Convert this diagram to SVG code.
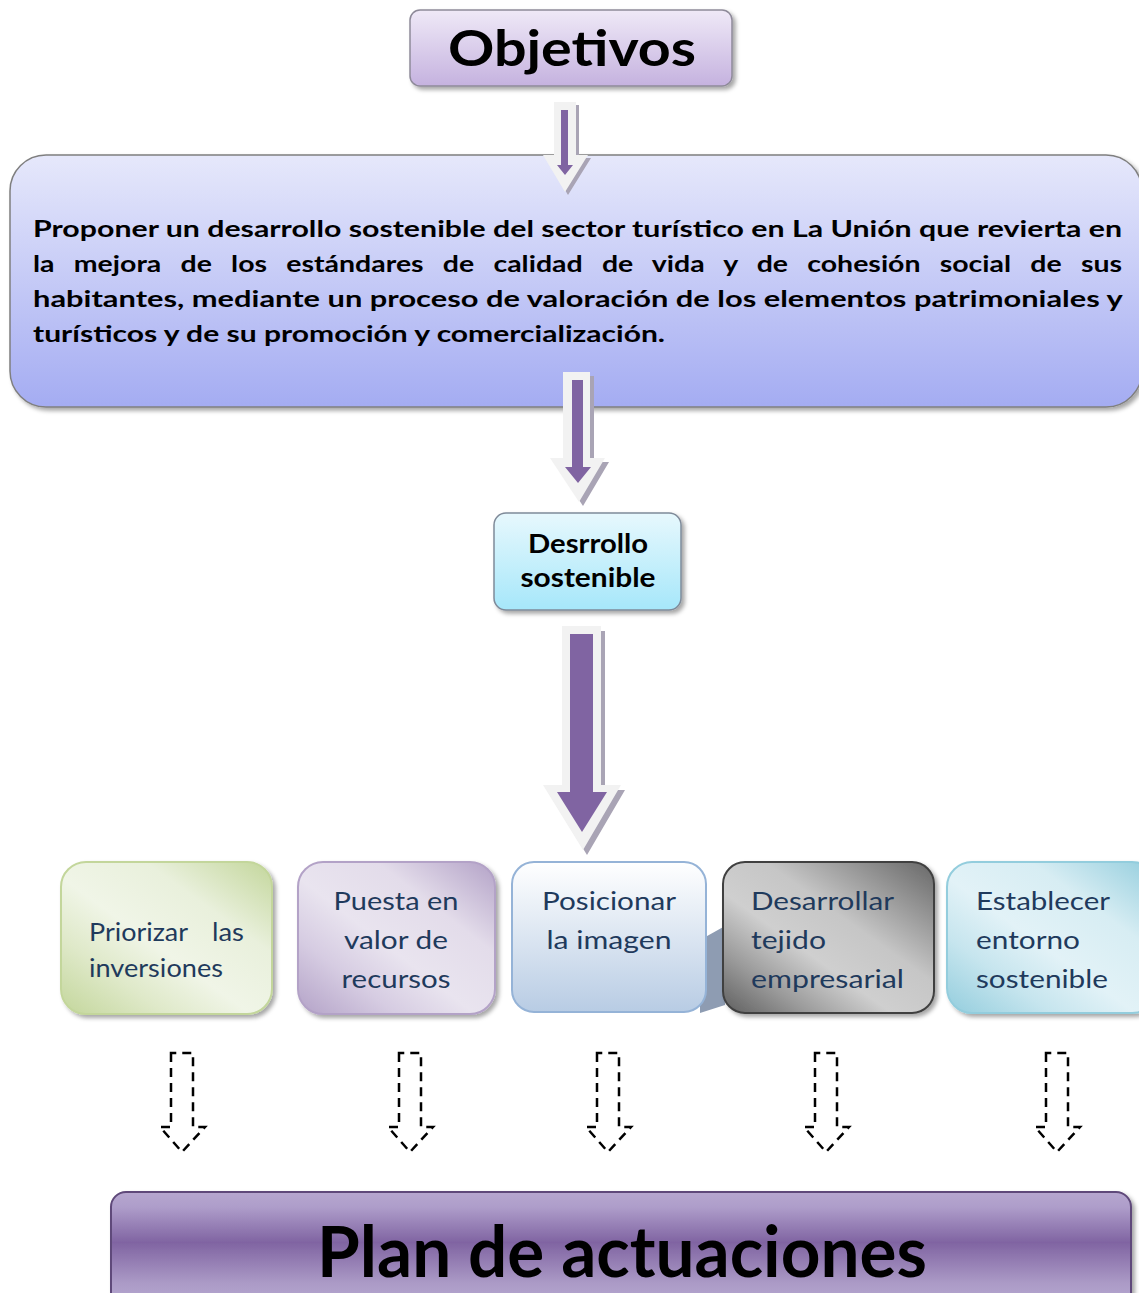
<svg xmlns="http://www.w3.org/2000/svg" width="1139" height="1293" viewBox="0 0 1139 1293">
<defs>
<style>
.b{font-family:Lato,"Liberation Sans",sans-serif;font-weight:bold;fill:#000}
.n{font-family:Lato,"Liberation Sans",sans-serif;font-weight:normal;fill:#1f3a5c;font-size:25px}
.dash{fill:none;stroke:#000;stroke-width:2.5;stroke-dasharray:9 6}
.aw{fill:#f2f2f2}
.as{fill:#a9a4b5}
.ap{fill:#8064a2}
</style>
<filter id="sh" x="-10%" y="-10%" width="130%" height="140%">
<feDropShadow dx="3" dy="3" stdDeviation="2" flood-color="#000" flood-opacity="0.35"/>
</filter>
<linearGradient id="gObj" x1="0" y1="0" x2="0" y2="1">
<stop offset="0" stop-color="#efe9f7"/><stop offset="1" stop-color="#c5b2df"/>
</linearGradient>
<linearGradient id="gMain" x1="0" y1="0" x2="0" y2="1">
<stop offset="0" stop-color="#e6e8fb"/><stop offset="1" stop-color="#a4acf2"/>
</linearGradient>
<linearGradient id="gDes" x1="0" y1="0" x2="0" y2="1">
<stop offset="0" stop-color="#e7f8fd"/><stop offset="1" stop-color="#a6e7fa"/>
</linearGradient>
<linearGradient id="gGreen" x1="1" y1="0" x2="0" y2="1">
<stop offset="0" stop-color="#c3d69b"/><stop offset="0.3" stop-color="#e9f0dc"/><stop offset="0.55" stop-color="#f0f5e7"/><stop offset="0.75" stop-color="#dfe9c9"/><stop offset="1" stop-color="#c3d69b"/>
</linearGradient>
<linearGradient id="gPurple" x1="1" y1="0" x2="0" y2="1">
<stop offset="0" stop-color="#b3a2c7"/><stop offset="0.3" stop-color="#e3dcea"/><stop offset="0.55" stop-color="#e9e4ef"/><stop offset="0.75" stop-color="#d6cce2"/><stop offset="1" stop-color="#b3a2c7"/>
</linearGradient>
<linearGradient id="gPos" x1="0" y1="0" x2="0" y2="1">
<stop offset="0" stop-color="#ffffff"/><stop offset="1" stop-color="#b8cce4"/>
</linearGradient>
<linearGradient id="gGrey" x1="1" y1="0" x2="0" y2="1">
<stop offset="0" stop-color="#676767"/><stop offset="0.4" stop-color="#c6c6c6"/><stop offset="0.6" stop-color="#cfcfcf"/><stop offset="0.8" stop-color="#9a9a9a"/><stop offset="1" stop-color="#5e5e5e"/>
</linearGradient>
<linearGradient id="gCyan" x1="1" y1="0" x2="0" y2="1">
<stop offset="0" stop-color="#93cddd"/><stop offset="0.3" stop-color="#d7edf3"/><stop offset="0.55" stop-color="#e2f2f7"/><stop offset="0.75" stop-color="#c6e5ee"/><stop offset="1" stop-color="#93cddd"/>
</linearGradient>
<linearGradient id="gPlan" gradientUnits="userSpaceOnUse" x1="0" y1="1192" x2="0" y2="1293">
<stop offset="0" stop-color="#b6a7cf"/><stop offset="0.15" stop-color="#ae9dca"/><stop offset="0.5" stop-color="#8064a2"/><stop offset="0.9" stop-color="#ab9ac6"/><stop offset="1" stop-color="#b0a1cb"/>
</linearGradient>
<path id="darr" d="M171,1053 V1127 H160 L182,1152 L205,1127 H193 V1053 Z"/>
</defs>

<g id="objetivos">
<rect x="410" y="10" width="322" height="76" rx="10" fill="url(#gObj)" stroke="#8e8a99" stroke-width="1.5" filter="url(#sh)"/>
<text class="b" x="448" y="66" font-size="50" textLength="248" lengthAdjust="spacingAndGlyphs">Objetivos</text>
</g>

<g id="objetivo-general">
<rect x="10" y="155" width="1132" height="252" rx="36" fill="url(#gMain)" stroke="#7f7f7f" stroke-width="1.5" filter="url(#sh)"/>
<text class="b" font-size="22">
<tspan x="33" y="237" textLength="1089" lengthAdjust="spacingAndGlyphs">Proponer un desarrollo sostenible del sector turístico en La Unión que revierta en</tspan>
</text>
<text class="b" font-size="22" x="33" y="272" word-spacing="9.5" textLength="1089" lengthAdjust="spacingAndGlyphs">la mejora de los estándares de calidad de vida y de cohesión social de sus</text>
<text class="b" font-size="22">
<tspan x="33" y="307" textLength="1089" lengthAdjust="spacingAndGlyphs">habitantes, mediante un proceso de valoración de los elementos patrimoniales y</tspan>
<tspan x="33" y="342" textLength="632" lengthAdjust="spacingAndGlyphs">turísticos y de su promoción y comercialización.</tspan>
</text>
</g>

<g id="desarrollo">
<rect x="494" y="513" width="187" height="97" rx="12" fill="url(#gDes)" stroke="#7f8a99" stroke-width="1.5" filter="url(#sh)"/>
<text class="b" x="588" y="553" font-size="27" text-anchor="middle" textLength="120" lengthAdjust="spacingAndGlyphs">Desrrollo</text>
<text class="b" x="588" y="587" font-size="27" text-anchor="middle" textLength="135" lengthAdjust="spacingAndGlyphs">sostenible</text>
</g>

<g id="link-shape">
<polygon points="700,940 725,926 725,1005 700,1013" fill="#8e9cb2"/>
</g>

<g id="priorizar">
<rect x="61" y="862" width="211" height="152" rx="25" fill="url(#gGreen)" stroke="#c3d69b" stroke-width="2" filter="url(#sh)"/>
<text class="n" x="89" y="941" textLength="99" lengthAdjust="spacingAndGlyphs">Priorizar</text>
<text class="n" x="244" y="941" text-anchor="end" textLength="32" lengthAdjust="spacingAndGlyphs">las</text>
<text class="n" x="89" y="977" textLength="134" lengthAdjust="spacingAndGlyphs">inversiones</text>
</g>

<g id="puesta">
<rect x="298" y="862" width="197" height="152" rx="25" fill="url(#gPurple)" stroke="#b3a2c7" stroke-width="2" filter="url(#sh)"/>
<text class="n" x="396" y="910" text-anchor="middle" textLength="125" lengthAdjust="spacingAndGlyphs">Puesta en</text>
<text class="n" x="396" y="949" text-anchor="middle" textLength="104" lengthAdjust="spacingAndGlyphs">valor de</text>
<text class="n" x="396" y="988" text-anchor="middle" textLength="109" lengthAdjust="spacingAndGlyphs">recursos</text>
</g>

<g id="posicionar">
<rect x="512" y="862" width="194" height="150" rx="22" fill="url(#gPos)" stroke="#95b3d7" stroke-width="2"/>
<text class="n" x="609" y="910" text-anchor="middle" textLength="134" lengthAdjust="spacingAndGlyphs">Posicionar</text>
<text class="n" x="609" y="949" text-anchor="middle" textLength="125" lengthAdjust="spacingAndGlyphs">la imagen</text>
</g>

<g id="desarrollar">
<rect x="723" y="862" width="211" height="151" rx="22" fill="url(#gGrey)" stroke="#404040" stroke-width="2" filter="url(#sh)"/>
<text class="n" x="751" y="910" textLength="143" lengthAdjust="spacingAndGlyphs">Desarrollar</text>
<text class="n" x="751" y="949" textLength="75" lengthAdjust="spacingAndGlyphs">tejido</text>
<text class="n" x="751" y="988" textLength="153" lengthAdjust="spacingAndGlyphs">empresarial</text>
</g>

<g id="establecer">
<rect x="947" y="862" width="210" height="151" rx="25" fill="url(#gCyan)" stroke="#93cddd" stroke-width="2" filter="url(#sh)"/>
<text class="n" x="976" y="910" textLength="134" lengthAdjust="spacingAndGlyphs">Establecer</text>
<text class="n" x="976" y="949" textLength="104" lengthAdjust="spacingAndGlyphs">entorno</text>
<text class="n" x="976" y="988" textLength="132" lengthAdjust="spacingAndGlyphs">sostenible</text>
</g>

<g id="plan">
<rect x="111" y="1192" width="1020" height="130" rx="15" fill="url(#gPlan)" stroke="#5f497a" stroke-width="2" filter="url(#sh)"/>
<text class="b" x="622" y="1277" font-size="70" text-anchor="middle" textLength="610" lengthAdjust="spacingAndGlyphs">Plan de actuaciones</text>
</g>

<g id="connectors">
<path class="as" d="M557,105 H579 V158 H591 L568,195 L546,158 H557 Z"/>
<path class="aw" d="M554,102 H576 V155 H588 L565,192 L543,155 H554 Z"/>
<path class="ap" d="M561,110 H568 V165 H573 L565,175 L557,165 H561 Z"/>

<path class="as" d="M567,376 H594 V462 H609 L583,506 L554,462 H567 Z"/>
<path class="aw" d="M563,372 H590 V458 H605 L579,502 L550,458 H563 Z"/>
<path class="ap" d="M572,380 H583 V467 H591 L578,483 L565,467 H572 Z"/>

<path class="as" d="M566,631 H605 V790 H625 L587,855 L547,790 H566 Z"/>
<path class="aw" d="M562,626 H601 V785 H621 L583,850 L543,785 H562 Z"/>
<path class="ap" d="M570,634 H593 V792 H607 L582,832 L557,792 H570 Z"/>

<use href="#darr" class="dash"/>
<use href="#darr" class="dash" transform="translate(228,0)"/>
<use href="#darr" class="dash" transform="translate(426,0)"/>
<use href="#darr" class="dash" transform="translate(644,0)"/>
<use href="#darr" class="dash" transform="translate(875,0)"/>
</g>
</svg>
